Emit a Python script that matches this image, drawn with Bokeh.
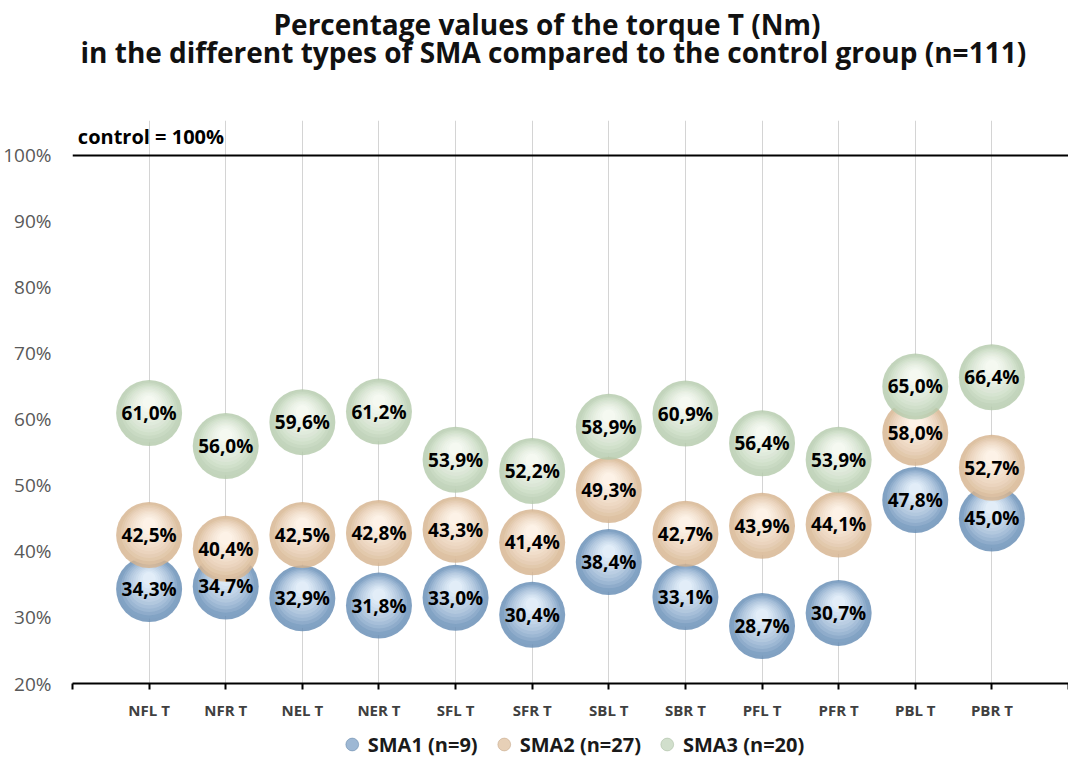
from bokeh.plotting import figure
from bokeh.layouts import column
from bokeh.models import Range1d, FixedTicker, Span, Label, Title, Legend, LegendItem, ColumnDataSource
from bokeh.transform import dodge
from bokeh.core.properties import value
from bokeh.embed import file_html
from bokeh.resources import INLINE

# ---- data ----
categories = ["NFL T", "NFR T", "NEL T", "NER T", "SFL T", "SFR T",
              "SBL T", "SBR T", "PFL T", "PFR T", "PBL T", "PBR T"]
sma1 = [34.3, 34.7, 32.9, 31.8, 33.0, 30.4, 38.4, 33.1, 28.7, 30.7, 47.8, 45.0]
sma2 = [42.5, 40.4, 42.5, 42.8, 43.3, 41.4, 49.3, 42.7, 43.9, 44.1, 58.0, 52.7]
sma3 = [61.0, 56.0, 59.6, 61.2, 53.9, 52.2, 58.9, 60.9, 56.4, 53.9, 65.0, 66.4]
series_names = ["SMA1 (n=9)", "SMA2 (n=27)", "SMA3 (n=20)"]
y_ticks = [20, 30, 40, 50, 60, 70, 80, 90, 100]
control = 100
control_label = "control = 100%"
title_line1 = "Percentage values of the torque T (Nm)"
title_line2 = "in the different types of SMA compared to the control group (n=111)"

# ---- style ----
FONT = "Open Sans"
rim_colors = ["#658cb5", "#d5b38f", "#b4caac"]
hi_colors = ["#e3eef9", "#fdf3e8", "#f5f9f2"]
D = 66
N_LAYERS = 12


def mix(c1, c2, t):
    a = [int(c1[i:i + 2], 16) for i in (1, 3, 5)]
    b = [int(c2[i:i + 2], 16) for i in (1, 3, 5)]
    return "#%02x%02x%02x" % tuple(round(a[i] + (b[i] - a[i]) * t) for i in range(3))


xs = list(range(1, len(categories) + 1))

p = figure(width=1068, height=722, output_backend="svg", toolbar_location=None,
           x_range=Range1d(0, len(categories) + 1), y_range=Range1d(20, 105.3),
           min_border_left=64, min_border_right=0, min_border_top=120,
           min_border_bottom=39)
p.outline_line_color = None
p.background_fill_color = "white"

# axes
p.xaxis.ticker = FixedTicker(ticks=list(range(0, len(categories) + 2)))
overrides = {0: "", len(categories) + 1: ""}
for i, c in zip(xs, categories):
    overrides[i] = c
p.xaxis.major_label_overrides = overrides
p.xaxis.axis_line_color = "black"
p.xaxis.axis_line_width = 2
p.xaxis.major_tick_line_color = "black"
p.xaxis.major_tick_line_width = 2
p.xaxis.major_tick_in = 0
p.xaxis.major_tick_out = 6
p.xaxis.minor_tick_line_color = None
p.xaxis.major_label_text_font = FONT
p.xaxis.major_label_text_font_style = "bold"
p.xaxis.major_label_text_font_size = "15px"
p.xaxis.major_label_text_color = "#404040"
p.xaxis.major_label_standoff = 10

p.yaxis.ticker = FixedTicker(ticks=y_ticks)
p.yaxis.major_label_overrides = {t: f"{t}%" for t in y_ticks}
p.yaxis.axis_line_color = None
p.yaxis.major_tick_line_color = None
p.yaxis.minor_tick_line_color = None
p.yaxis.major_label_text_font = FONT
p.yaxis.major_label_text_font_size = "19px"
p.yaxis.major_label_text_color = "#595959"
p.yaxis.major_label_standoff = 15

p.xgrid.grid_line_color = "#d4d4d4"
p.xgrid.grid_line_width = 1
p.ygrid.grid_line_color = None

# control line
p.add_layout(Span(location=control, dimension="width", line_color="black", line_width=2))
p.add_layout(Label(x=0.07, y=control, text=control_label, y_offset=5,
                   text_font=FONT, text_font_style="bold", text_font_size="20px",
                   text_color="black", text_baseline="bottom"))

# bubbles
all_series = [sma1, sma2, sma3]
for s, vals in enumerate(all_series):
    src = ColumnDataSource(dict(x=xs, y=vals))
    for k in range(N_LAYERS):
        t = k / (N_LAYERS - 1)
        size = D * (1 - 0.8 * t)
        col = mix(rim_colors[s], hi_colors[s], t ** 0.6)
        p.scatter(x="x", y=dodge("y", 1.6 * t, range=p.y_range), source=src,
                  size=size, fill_color=col, fill_alpha=0.82, line_color=None)

for vals in all_series:
    src = ColumnDataSource(dict(x=xs, y=vals,
                                lab=[f"{v:.1f}%".replace(".", ",") for v in vals]))
    p.text(x="x", y="y", text="lab", source=src, text_font=value(FONT),
           text_font_style="bold", text_font_size="19px", text_color="black",
           text_align="center", text_baseline="middle")

# titles (first added is closest to the plot; the first one is an empty spacer)
p.add_layout(Title(text=" ", align="center", text_font=FONT, text_font_size="10px",
                   standoff=29), "above")
p.add_layout(Title(text=title_line2, align="left", offset=8, text_font=FONT,
                   text_font_style="bold", text_font_size="28px", text_color="#111111",
                   text_line_height=1.0, standoff=10), "above")
p.add_layout(Title(text=title_line1, align="left", offset=201, text_font=FONT,
                   text_font_style="bold", text_font_size="28px", text_color="#111111",
                   text_line_height=1.0, standoff=-35), "above")

# legend in a strip below the chart
lg = figure(width=1068, height=38, output_backend="svg", toolbar_location=None,
            min_border=0, x_range=Range1d(0, 1), y_range=Range1d(0, 1))
lg.axis.visible = False
lg.grid.grid_line_color = None
lg.outline_line_color = None
lg.background_fill_alpha = 0
items = []
for s, name in enumerate(series_names):
    r = lg.scatter(x=[-5], y=[-5], size=13, fill_color=mix(rim_colors[s], hi_colors[s], 0.45),
                   line_color=mix(rim_colors[s], "#000000", 0.1), line_width=0.5)
    items.append(LegendItem(label=name, renderers=[r]))
legend = Legend(items=items, orientation="horizontal", location="bottom_center",
                label_text_font=FONT, label_text_font_style="bold",
                label_text_font_size="20px", label_text_color="#1a1a1a",
                border_line_color=None, background_fill_alpha=0,
                glyph_width=32, glyph_height=32, label_standoff=-5, spacing=10,
                margin=0, padding=0)
lg.add_layout(legend, "center")

layout = column(p, lg, spacing=0)
open("out.html", "w").write(file_html(layout, INLINE))
